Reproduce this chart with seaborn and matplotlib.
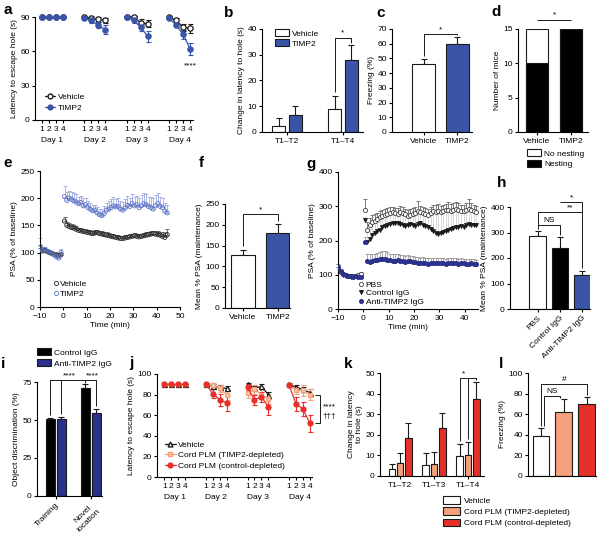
import numpy as np
import pandas as pd
import matplotlib
matplotlib.use("Agg")
import matplotlib.pyplot as plt
import matplotlib.transforms as mtransforms
from matplotlib.lines import Line2D
from matplotlib.patches import Patch
import seaborn as sns

# ------------------------------------------------------------------ data
# a: Barnes maze latency (4 days x 4 trials)
a_days = ["Day 1", "Day 2", "Day 3", "Day 4"]
a_trials = ["1", "2", "3", "4"]
a_vehicle = [90, 90, 90, 90, 90, 89, 88, 87, 90, 90, 85, 84, 90, 87, 81, 80]
a_vehicle_err = [0, 0, 0, 0, 1, 2, 2, 2, 1, 1, 3, 3, 1, 2, 3, 4]
a_timp2 = [90, 90, 90, 90, 89, 87, 83, 79, 90, 87, 81, 73, 89, 83, 75, 62]
a_timp2_err = [0, 0, 0, 0, 1, 2, 3, 4, 1, 2, 3, 5, 1, 2, 4, 5]

# b: change in latency
b_groups = ["T1–T2", "T1–T4"]
b_vehicle = [2.5, 9.0]
b_vehicle_err = [2.8, 5.0]
b_timp2 = [6.5, 28.0]
b_timp2_err = [3.7, 5.7]

# c: freezing
c_groups = ["Vehicle", "TIMP2"]
c_mean = [46, 60]
c_err = [3.5, 4.5]

# d: nesting
d_groups = ["Vehicle", "TIMP2"]
d_nesting = [10, 15]
d_no_nesting = [5, 0]

# e: LTP time course
e_base_time = [-10, -9, -8, -7, -6, -5, -4, -3, -2, -1]
e_post_time = [t + 0.5 for t in range(45)]
e_vehicle_base = [108, 103, 104, 102, 100, 99, 97, 96, 95, 96]
e_vehicle_base_err = [6, 4, 3, 3, 3, 3, 3, 3, 3, 4]
e_vehicle_post = [158, 150, 148, 146, 145, 143, 141, 140, 139, 138,
                  137, 136, 135, 136, 137, 135, 134, 133, 132, 131,
                  130, 129, 128, 127, 126, 126, 127, 128, 129, 130,
                  131, 130, 129, 130, 131, 132, 133, 134, 135, 134,
                  133, 132, 130, 128, 133]
e_vehicle_post_err = [8, 7, 6, 6, 6, 5, 5, 5, 5, 5,
                      5, 5, 5, 5, 5, 5, 5, 5, 5, 5,
                      5, 5, 5, 5, 5, 5, 5, 5, 5, 5,
                      5, 5, 5, 5, 5, 5, 5, 5, 5, 5,
                      6, 6, 7, 8, 10]
e_timp2_base = [112, 104, 106, 103, 101, 98, 96, 92, 90, 100]
e_timp2_base_err = [14, 6, 5, 4, 4, 4, 4, 5, 5, 6]
e_timp2_post = [203, 196, 200, 198, 195, 193, 190, 192, 186, 188,
                183, 180, 177, 178, 173, 170, 168, 172, 178, 180,
                183, 186, 184, 185, 180, 178, 182, 187, 185, 190,
                186, 188, 183, 186, 190, 188, 185, 183, 180, 186,
                190, 185, 183, 176, 173]
e_timp2_post_err = [20, 16, 14, 13, 14, 15, 13, 12, 14, 13,
                    12, 11, 10, 10, 10, 11, 12, 13, 14, 15,
                    16, 16, 15, 15, 14, 15, 16, 17, 16, 18,
                    17, 16, 18, 19, 20, 19, 18, 20, 21, 20,
                    19, 18, 17, 15, 14]

# f: mean LTP maintenance
f_groups = ["Vehicle", "TIMP2"]
f_mean = [127, 180]
f_err = [12, 22]

# g: LTP with antibodies
g_base_time = [-10, -9, -8, -7, -6, -5, -4, -3, -2, -1]
g_post_time = [t + 0.5 for t in range(45)]
g_pbs_base = [122, 108, 102, 98, 96, 95, 95, 96, 98, 102]
g_pbs_base_err = [8, 5, 4, 3, 3, 3, 3, 3, 4, 5]
g_pbs_post = [290, 232, 245, 255, 258, 262, 268, 272, 275, 278,
              280, 282, 280, 278, 283, 280, 276, 272, 275, 278,
              280, 285, 282, 280, 278, 275, 280, 285, 282, 287,
              283, 285, 288, 290, 287, 290, 292, 288, 285, 287,
              290, 292, 288, 285, 283]
g_pbs_post_err = [30, 22, 20, 18, 18, 17, 17, 18, 18, 18,
                  17, 17, 16, 16, 18, 17, 16, 16, 16, 17,
                  18, 30, 20, 18, 17, 17, 18, 20, 22, 20,
                  19, 18, 20, 22, 20, 19, 20, 22, 20, 18,
                  20, 30, 22, 20, 18]
g_ctrl_base = [118, 106, 100, 97, 95, 94, 94, 95, 96, 95]
g_ctrl_base_err = [6, 4, 3, 3, 3, 3, 3, 3, 3, 3]
g_ctrl_post = [260, 195, 205, 215, 222, 228, 232, 238, 242, 245,
               247, 250, 252, 250, 248, 245, 243, 245, 247, 245,
               243, 247, 250, 245, 242, 240, 235, 228, 223, 220,
               222, 225, 228, 232, 235, 236, 238, 240, 242, 240,
               245, 248, 245, 246, 244]
g_ctrl_post_err = [10, 30, 30, 28, 28, 27, 26, 25, 26, 26,
                   26, 25, 24, 25, 26, 27, 28, 28, 27, 28,
                   30, 32, 30, 32, 36, 38, 45, 52, 58, 62,
                   62, 60, 58, 55, 52, 52, 50, 50, 48, 48,
                   45, 42, 44, 42, 40]
g_anti_base = [124, 110, 103, 99, 96, 95, 94, 95, 94, 93]
g_anti_base_err = [8, 5, 4, 3, 3, 3, 3, 3, 3, 3]
g_anti_post = [195, 140, 138, 140, 142, 143, 145, 147, 145, 143,
               142, 141, 140, 142, 140, 139, 138, 140, 139, 137,
               136, 135, 134, 135, 133, 132, 134, 135, 133, 134,
               135, 133, 132, 134, 135, 134, 133, 132, 134, 133,
               132, 131, 133, 132, 130]
g_anti_post_err = [15, 20, 22, 22, 20, 20, 20, 22, 24, 22,
                   20, 20, 20, 18, 18, 18, 18, 17, 17, 17,
                   16, 16, 16, 16, 16, 16, 15, 15, 15, 15,
                   15, 15, 15, 15, 15, 15, 15, 14, 14, 14,
                   14, 14, 14, 13, 13]

# h: mean LTP maintenance with antibodies
h_groups = ["PBS", "Control IgG", "Anti-TIMP2 IgG"]
h_mean = [285, 240, 135]
h_err = [22, 42, 15]

# i: object discrimination
i_groups = ["Training", "Novel\nlocation"]
i_control = [50.5, 71.0]
i_control_err = [1.0, 2.5]
i_anti = [50.5, 54.5]
i_anti_err = [1.5, 2.5]

# j: Barnes maze with cord plasma
j_vehicle = [90, 90, 90, 90, 90, 88, 87, 86, 90, 86, 88, 80, 90, 87, 85, 82]
j_vehicle_err = [0, 0, 0, 0, 1, 2, 2, 2, 1, 2, 2, 3, 1, 2, 2, 3]
j_timp2dep = [90, 90, 90, 90, 90, 89, 86, 80, 82, 85, 80, 76, 89, 84, 84, 80]
j_timp2dep_err = [0, 0, 0, 0, 1, 2, 3, 5, 5, 4, 4, 5, 1, 3, 5, 5]
j_ctrldep = [90, 90, 90, 90, 90, 81, 75, 72, 87, 75, 78, 68, 89, 71, 66, 52]
j_ctrldep_err = [0, 0, 0, 0, 1, 4, 6, 8, 3, 5, 5, 8, 1, 7, 7, 8]

# k: change in latency
k_groups = ["T1–T2", "T1–T3", "T1–T4"]
k_vehicle = [3.5, 5.5, 9.5]
k_vehicle_err = [2.5, 5.5, 6.0]
k_timp2dep = [6.5, 6.0, 10.0]
k_timp2dep_err = [4.5, 5.5, 6.5]
k_ctrldep = [18.5, 23.5, 37.5]
k_ctrldep_err = [7.2, 7.0, 8.0]

# l: freezing
l_groups = ["Vehicle", "Cord PLM (TIMP2-depleted)", "Cord PLM (control-depleted)"]
l_mean = [39, 62, 70]
l_err = [7.5, 13, 6.5]

# ------------------------------------------------------------------ style
sns.set_theme(style="ticks")
plt.rcParams["font.family"] = ["Liberation Sans", "DejaVu Sans"]
plt.rcParams.update({
    "font.size": 6, "axes.labelsize": 6, "xtick.labelsize": 6, "ytick.labelsize": 6,
    "legend.fontsize": 6, "axes.linewidth": 0.8, "axes.edgecolor": "black",
    "xtick.color": "black", "ytick.color": "black", "text.color": "black",
    "axes.labelcolor": "black", "xtick.major.width": 0.8, "ytick.major.width": 0.8,
    "xtick.major.size": 2.5, "ytick.major.size": 2.5, "xtick.major.pad": 1.5,
    "ytick.major.pad": 1.2, "axes.labelpad": 2.0,
})

BLUE = "#3A55A8"
NAVY = "#2B318C"
LBLUE = "#5C74C6"
SALMON = "#F4A07A"
RED = "#E8302A"

W, H = 604, 534
fig = plt.figure(figsize=(W / 100, H / 100), dpi=100)


def px_axes(l, t, r, b):
    ax = fig.add_axes([l / W, 1 - b / H, (r - l) / W, (b - t) / H])
    sns.despine(ax=ax)
    return ax


def letter(x, y, s):
    fig.text(x / W, 1 - y / H, s, fontsize=11, fontweight="bold", va="baseline", ha="left")


def up_err(ax, xs, means, errs, color="k", cap=2.0, lw=0.8, z=1):
    ax.errorbar(xs, means, yerr=[np.zeros(len(errs)), errs], fmt="none", ecolor=color,
                elinewidth=lw, capsize=cap, capthick=lw, zorder=z, clip_on=False)


def grouped_bars(ax, cats, names, values, errors, colors, width, gap):
    rows = []
    for j, nm in enumerate(names):
        for i, c in enumerate(cats):
            rows.append((c, nm, values[j][i]))
    df = pd.DataFrame(rows, columns=["cat", "grp", "val"])
    sns.barplot(data=df, x="cat", y="val", hue="grp", order=cats, hue_order=names,
                palette=colors, width=width, gap=gap, saturation=1, edgecolor="k",
                linewidth=0.8, errorbar=None, legend=False, ax=ax, zorder=2)
    n = len(names)
    for j in range(n):
        xs = [i + (j - (n - 1) / 2) * width / n for i in range(len(cats))]
        up_err(ax, xs, values[j], errors[j])
    ax.set_xlabel("")


def single_bars(ax, cats, values, errors, colors, width):
    sns.barplot(x=cats, y=values, hue=cats, palette=colors, width=width, saturation=1,
                edgecolor="k", linewidth=0.8, errorbar=None, legend=False, ax=ax, zorder=2)
    up_err(ax, list(range(len(cats))), values, errors)


def line(ax, xs, ys, lw=0.7):
    ax.plot(xs, ys, color="k", lw=lw, clip_on=False, solid_capstyle="butt")


def maze_panel(ax, series, xlim):
    # series: list of (name, vals, errs, color, marker, mfc, ms)
    pos = [6 * d + t for d in range(4) for t in range(4)]
    day = [d for d in range(4) for t in range(4)]
    for name, vals, errs, col, mk, mfc, ms in series:
        df = pd.DataFrame({"pos": pos, "day": day, "val": vals})
        ax.errorbar(pos, vals, yerr=errs, fmt="none", ecolor=col, elinewidth=0.8,
                    capsize=1.8, capthick=0.8, zorder=2, clip_on=False)
        sns.lineplot(data=df, x="pos", y="val", units="day", estimator=None, color=col,
                     marker=mk, markersize=ms, markerfacecolor=mfc, markeredgecolor=col,
                     markeredgewidth=0.9, linewidth=0.9, ax=ax, legend=False, zorder=3,
                     clip_on=False)
    ax.set_xticks(pos)
    ax.set_xticklabels(a_trials * 4)
    ax.set_xlim(*xlim)
    ax.set_xlabel("")
    tr = mtransforms.blended_transform_factory(ax.transData, ax.transAxes)
    for d, lab in enumerate(a_days):
        ax.text(6 * d + 1.5, -0.2, lab, transform=tr, ha="center", va="center")
    return pos


# ------------------------------------------------------------------ a
ax = px_axes(35, 17, 193, 120)
pos = maze_panel(ax, [("Vehicle", a_vehicle, a_vehicle_err, "k", "o", "white", 3.8),
                      ("TIMP2", a_timp2, a_timp2_err, BLUE, "o", BLUE, 3.8)], (-0.95, 21.4))
ax.set_ylim(0, 90)
ax.set_yticks([0, 30, 60, 90])
ax.set_ylabel("Latency to escape hole (s)")
ax.text(pos[-1], 47, "****", ha="center", va="center", fontsize=6)
hd = [Line2D([], [], color="k", marker="o", mfc="white", mec="k", ms=3.5, lw=0.9),
      Line2D([], [], color=BLUE, marker="o", mfc=BLUE, mec=BLUE, ms=3.5, lw=0.9)]
ax.legend(hd, ["Vehicle", "TIMP2"], loc="lower left", bbox_to_anchor=(0.04, 0.05),
          frameon=False, handlelength=1.3, handletextpad=0.3, labelspacing=0.35, borderaxespad=0)
letter(3, 14, "a")

# ------------------------------------------------------------------ b
ax = px_axes(262, 29, 363, 132)
grouped_bars(ax, b_groups, ["Vehicle", "TIMP2"], [b_vehicle, b_timp2],
             [b_vehicle_err, b_timp2_err], ["white", BLUE], 0.6, 0.22)
ax.set_ylim(0, 40)
ax.set_yticks([0, 10, 20, 30, 40])
ax.set_xlim(-0.45, 1.36)
ax.set_ylabel("Change in latency to hole (s)")
x0, x1 = 1 - 0.15, 1 + 0.15
line(ax, [x0, x0, x1, x1], [b_vehicle[1] + b_vehicle_err[1] + 1.5, 36.5, 36.5,
                            b_timp2[1] + b_timp2_err[1] + 1.0])
ax.text(1, 37.0, "*", ha="center", va="bottom", fontsize=6)
hd = [Patch(facecolor="white", edgecolor="k", lw=0.8), Patch(facecolor=BLUE, edgecolor="k", lw=0.8)]
ax.legend(hd, ["Vehicle", "TIMP2"], loc="upper left", bbox_to_anchor=(0.1, 1.03), frameon=False,
          handlelength=1.6, handleheight=0.9, handletextpad=0.4, labelspacing=0.2, borderaxespad=0)
letter(224, 17, "b")

# ------------------------------------------------------------------ c
ax = px_axes(392, 29, 472, 132)
single_bars(ax, c_groups, c_mean, c_err, ["white", BLUE], 0.68)
ax.set_ylim(0, 70)
ax.set_yticks(range(0, 71, 10))
ax.set_xlim(-0.93, 1.43)
ax.set_ylabel("Freezing (%)")
line(ax, [0, 0, 1, 1], [c_mean[0] + c_err[0] + 2, 66.5, 66.5, c_mean[1] + c_err[1] + 1.5])
ax.text(0.5, 67, "*", ha="center", va="bottom", fontsize=6)
letter(376, 17, "c")

# ------------------------------------------------------------------ d
ax = px_axes(518, 29, 588, 132)
d_total = [n + m for n, m in zip(d_nesting, d_no_nesting)]
sns.barplot(x=d_groups, y=d_total, color="white", saturation=1, edgecolor="k", linewidth=0.8,
            width=0.64, errorbar=None, ax=ax, zorder=2)
sns.barplot(x=d_groups, y=d_nesting, color="black", saturation=1, edgecolor="k", linewidth=0.8,
            width=0.64, errorbar=None, ax=ax, zorder=3)
ax.set_ylim(0, 15)
ax.set_yticks([0, 5, 10, 15])
ax.set_xlim(-0.55, 1.48)
ax.set_ylabel("Number of mice")
line(ax, [0, 1], [16.3, 16.3])
ax.text(0.5, 16.6, "*", ha="center", va="bottom", fontsize=6)
hd = [Patch(facecolor="white", edgecolor="k", lw=0.8), Patch(facecolor="black", edgecolor="k", lw=0.8)]
fig.legend(hd, ["No nesting", "Nesting"], loc="upper left", bbox_to_anchor=(524 / W, 1 - 146 / H),
           frameon=False, handlelength=1.6, handleheight=0.9, handletextpad=0.4, labelspacing=0.25,
           borderaxespad=0)
letter(491, 16, "d")


# ------------------------------------------------------------------ e
def ts(ax, t, v, e, col, ecol, marker, fc, s=9, lw=0.6):
    up_err(ax, t, v, e, color=ecol, cap=1.2, lw=0.6, z=1)
    df = pd.DataFrame({"t": t, "v": v})
    sns.scatterplot(data=df, x="t", y="v", marker=marker, color=col, facecolor=fc,
                    edgecolor=col, s=s, linewidth=lw, ax=ax, zorder=3, legend=False)


ax = px_axes(40, 171, 180, 307)
ts(ax, e_base_time + e_post_time, e_vehicle_base + e_vehicle_post,
   e_vehicle_base_err + e_vehicle_post_err, "0.15", "0.35", "o", "none")
ts(ax, e_base_time + e_post_time, e_timp2_base + e_timp2_post,
   e_timp2_base_err + e_timp2_post_err, LBLUE, "#9DAAE0", "o", "none")
ax.set_xlim(-10, 50)
ax.set_ylim(0, 250)
ax.set_xticks(range(-10, 51, 10))
ax.set_yticks(range(0, 251, 50))
ax.set_xlabel("Time (min)")
ax.set_ylabel("PSA (% of baseline)")
hd = [Line2D([], [], ls="", marker="o", mfc="none", mec="0.15", ms=3, mew=0.6),
      Line2D([], [], ls="", marker="o", mfc="none", mec=LBLUE, ms=3, mew=0.6)]
ax.legend(hd, ["Vehicle", "TIMP2"], loc="lower left", bbox_to_anchor=(0.07, 0.04), frameon=False,
          handlelength=0.6, handletextpad=0.2, labelspacing=0.25, borderaxespad=0)
letter(3, 167, "e")

# ------------------------------------------------------------------ f
ax = px_axes(225, 204, 290, 308)
single_bars(ax, f_groups, f_mean, f_err, ["white", BLUE], 0.67)
ax.set_ylim(0, 250)
ax.set_yticks(range(0, 251, 50))
ax.set_xlim(-0.51, 1.35)
ax.set_ylabel("Mean % PSA (maintenance)")
line(ax, [0, 0, 1, 1], [f_mean[0] + f_err[0] + 10, 225, 225, f_mean[1] + f_err[1] + 6])
ax.text(0.5, 227, "*", ha="center", va="bottom", fontsize=6)
letter(199, 167, "f")

# ------------------------------------------------------------------ g
ax = px_axes(338, 172, 478, 309)
tg = g_base_time + g_post_time
ts(ax, tg, g_ctrl_base + g_ctrl_post, g_ctrl_base_err + g_ctrl_post_err, "k", "0.82", "v", "k", s=8)
ts(ax, tg, g_pbs_base + g_pbs_post, g_pbs_base_err + g_pbs_post_err, "0.25", "0.4", "o", "white", s=9)
ts(ax, tg, g_anti_base + g_anti_post, g_anti_base_err + g_anti_post_err, NAVY, "0.6", "o", NAVY, s=9)
ax.set_xlim(-10, 45.2)
ax.set_ylim(0, 400)
ax.set_xticks(range(-10, 41, 10))
ax.set_yticks(range(0, 401, 100))
ax.set_xlabel("Time (min)")
ax.set_ylabel("PSA (% of baseline)")
hd = [Line2D([], [], ls="", marker="o", mfc="white", mec="0.25", ms=3, mew=0.6),
      Line2D([], [], ls="", marker="v", mfc="k", mec="k", ms=3, mew=0.6),
      Line2D([], [], ls="", marker="o", mfc=NAVY, mec=NAVY, ms=3, mew=0.6)]
ax.legend(hd, ["PBS", "Control IgG", "Anti-TIMP2 IgG"], loc="lower left",
          bbox_to_anchor=(0.12, 0.0), frameon=False, handlelength=0.6, handletextpad=0.3,
          labelspacing=0.05, borderaxespad=0)
letter(306, 168, "g")

# ------------------------------------------------------------------ h
ax = px_axes(510, 207, 590, 309)
single_bars(ax, h_groups, h_mean, h_err, ["white", "black", BLUE], 0.73)
ax.set_ylim(0, 400)
ax.set_yticks(range(0, 401, 100))
ax.set_xlim(-1.23, 2.34)
ax.set_ylabel("Mean % PSA (maintenance)")
ax.set_xticks(range(3))
ax.set_xticklabels(h_groups, rotation=45, ha="right", rotation_mode="anchor")
line(ax, [0, 0, 1, 1], [h_mean[0] + h_err[0] + 8, 330, 330, h_mean[1] + h_err[1] + 8])
ax.text(0.5, 334, "NS", ha="center", va="bottom", fontsize=6)
line(ax, [0, 0, 2], [330, 382, 382])
ax.text(1.45, 384, "**", ha="center", va="bottom", fontsize=6)
line(ax, [1, 2, 2], [420, 420, h_mean[2] + h_err[2] + 10])
ax.text(1.5, 423, "*", ha="center", va="bottom", fontsize=6)
letter(497, 187, "h")

# ------------------------------------------------------------------ i
ax = px_axes(37, 382, 102, 496)
grouped_bars(ax, i_groups, ["Control IgG", "Anti-TIMP2 IgG"], [i_control, i_anti],
             [i_control_err, i_anti_err], ["black", NAVY], 0.62, 0.2)
ax.set_ylim(0, 75)
ax.set_yticks([0, 25, 50, 75])
ax.set_xlim(-0.54, 1.32)
ax.set_ylabel("Object discrimination (%)")
ax.set_xticks([0, 1])
ax.set_xticklabels(i_groups, rotation=45, ha="right", rotation_mode="anchor", ma="center")
off = 0.62 / 4
line(ax, [-off, -off, 1 - off, 1 - off], [i_control[0] + i_control_err[0] + 2, 76, 76,
                                          i_control[1] + i_control_err[1] + 1])
line(ax, [off, off], [i_anti[0] + i_anti_err[0] + 2, 76])
ax.text(0.4, 77, "****", ha="center", va="bottom", fontsize=6)
line(ax, [1 - off, 1 + off, 1 + off], [76, 76, i_anti[1] + i_anti_err[1] + 2])
ax.text(1.05, 77, "****", ha="center", va="bottom", fontsize=6)
hd = [Patch(facecolor="black", edgecolor="k", lw=0.8), Patch(facecolor=NAVY, edgecolor="k", lw=0.8)]
fig.legend(hd, ["Control IgG", "Anti-TIMP2 IgG"], loc="upper left",
           bbox_to_anchor=(34 / W, 1 - 345 / H), frameon=False, handlelength=1.6,
           handleheight=0.9, handletextpad=0.4, labelspacing=0.3, borderaxespad=0)
letter(1, 368, "i")

# ------------------------------------------------------------------ j
ax = px_axes(157, 374, 312, 477)
pos = maze_panel(ax, [("Vehicle", j_vehicle, j_vehicle_err, "k", "^", "white", 3.6),
                      ("TIMP2-dep", j_timp2dep, j_timp2dep_err, SALMON, "s", "#F9C3A8", 3.4),
                      ("ctrl-dep", j_ctrldep, j_ctrldep_err, RED, "o", RED, 3.6)], (-1.05, 21.3))
ax.set_ylim(0, 100)
ax.set_yticks(range(0, 101, 20))
ax.set_ylabel("Latency to escape hole (s)")
xb = pos[-1] + 1.4
line(ax, [xb - 0.6, xb, xb, xb - 0.6], [j_timp2dep[-1], j_timp2dep[-1], j_ctrldep[-1], j_ctrldep[-1]])
ax.text(xb + 0.4, 68, "****", ha="left", va="center", fontsize=6, clip_on=False)
ax.text(xb + 0.4, 59, "†††", ha="left", va="center", fontsize=6, clip_on=False)
hd = [Line2D([], [], color="k", marker="^", mfc="white", mec="k", ms=3.5, lw=0.9),
      Line2D([], [], color=SALMON, marker="s", mfc="#F9C3A8", mec=SALMON, ms=3.4, lw=0.9),
      Line2D([], [], color=RED, marker="o", mfc=RED, mec=RED, ms=3.5, lw=0.9)]
ax.legend(hd, ["Vehicle", "Cord PLM (TIMP2-depleted)", "Cord PLM (control-depleted)"],
          loc="lower left", bbox_to_anchor=(0.03, 0.04), frameon=False, handlelength=1.3,
          handletextpad=0.3, labelspacing=0.3, borderaxespad=0)
letter(129, 367, "j")

# ------------------------------------------------------------------ k
ax = px_axes(380, 373, 484, 476)
grouped_bars(ax, k_groups, l_groups, [k_vehicle, k_timp2dep, k_ctrldep],
             [k_vehicle_err, k_timp2dep_err, k_ctrldep_err], ["white", SALMON, RED], 0.72, 0.17)
ax.set_ylim(0, 50)
ax.set_yticks(range(0, 51, 10))
ax.set_xlim(-0.59, 2.47)
ax.set_ylabel("Change in latency\nto hole (s)")
dx = 0.72 / 3
line(ax, [2 - dx, 2 - dx, 2 + dx, 2 + dx], [k_vehicle[2] + k_vehicle_err[2] + 1.5, 47.5, 47.5,
                                            k_ctrldep[2] + k_ctrldep_err[2] + 1])
line(ax, [2, 2], [k_timp2dep[2] + k_timp2dep_err[2] + 1.5, 47.5])
ax.text(2 - dx / 2, 48, "*", ha="center", va="bottom", fontsize=6)
hd = [Patch(facecolor=c, edgecolor="k", lw=0.8) for c in ["white", SALMON, RED]]
fig.legend(hd, l_groups, loc="upper left", bbox_to_anchor=(440 / W, 1 - 493 / H), frameon=False,
           handlelength=2.0, handleheight=1.0, handletextpad=0.5, labelspacing=0.3, borderaxespad=0)
letter(344, 368, "k")

# ------------------------------------------------------------------ l
ax = px_axes(528, 373, 596, 476)
single_bars(ax, l_groups, l_mean, l_err, ["white", SALMON, RED], 0.73)
ax.set_ylim(0, 100)
ax.set_yticks(range(0, 101, 20))
ax.set_xlim(-0.57, 2.41)
ax.set_ylabel("Freezing (%)")
ax.set_xticks([])
ax.set_xlabel("")
line(ax, [0, 0, 2, 2], [l_mean[0] + l_err[0] + 2, 89, 89, l_mean[2] + l_err[2] + 2])
ax.text(1.0, 90, "#", ha="center", va="bottom", fontsize=6)
line(ax, [0.15, 0.15, 0.85, 0.85], [l_mean[0] + l_err[0] + 2, 78, 78, l_mean[1] + l_err[1] + 0.5])
ax.text(0.5, 79, "NS", ha="center", va="bottom", fontsize=6)
letter(499, 368, "l")

fig.savefig("out.png", dpi=100)
